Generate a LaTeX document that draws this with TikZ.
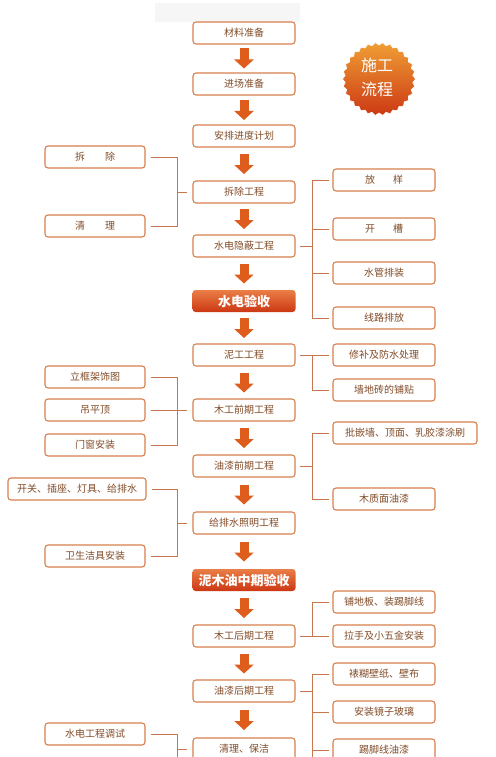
\documentclass[tikz,border=0pt]{standalone}
\usepackage{fontspec}
\setmainfont{Noto Sans CJK SC}
\usepackage{xcolor}
\usetikzlibrary{arrows.meta,positioning,shapes.geometric,calc}
\definecolor{boxline}{RGB}{214,128,78}
\definecolor{boxtext}{RGB}{130,76,40}
\definecolor{linkc}{RGB}{200,118,78}
\definecolor{flowc}{RGB}{222,92,28}
\definecolor{chktop}{RGB}{234,126,70}
\definecolor{chkbot}{RGB}{204,56,20}

\begin{document}
\begin{tikzpicture}[x=1pt,y=-1pt,
  proc/.style={draw=boxline,line width=1.1pt,rounded corners=3pt,fill=white,
               minimum width=102pt,minimum height=22pt,inner sep=0pt,
               text=boxtext,font=\fontsize{10}{12}\selectfont},
  sub/.style={proc,minimum width=100pt},
  check/.style={proc,draw=none,top color=chktop,bottom color=chkbot,
                text=white,minimum width=103pt,
                font=\fontsize{13}{15}\selectfont\bfseries},
  badge/.style={star,star points=30,star point ratio=0.93,minimum size=68pt,
                inner sep=0pt,draw=white,line width=0.6pt,
                top color=chktop!75!yellow,bottom color=chkbot},
  flow/.style={flowc,line width=9pt,-{Triangle[width=19pt,length=9pt]}},
  link/.style={linkc,line width=1pt}
]
\useasboundingbox[fill=white] (0,0) rectangle (495,757);
\fill[gray!7] (155,3) rectangle (300,22);

% main column
\node[proc] (n1) at (244,33) {材料准备};
\node[proc] (n2) at (244,84) {进场准备};
\node[proc] (n3) at (244,136) {安排进度计划};
\node[proc] (n4) at (244,192) {拆除工程};
\node[proc] (n5) at (244,246) {水电隐蔽工程};
\node[check] (n6) at (244,301) {水电验收};
\node[proc] (n7) at (244,355) {泥工工程};
\node[proc] (n8) at (244,410) {木工前期工程};
\node[proc] (n9) at (244,466) {油漆前期工程};
\node[proc] (n10) at (244,523) {给排水照明工程};
\node[check] (n11) at (244,580) {泥木油中期验收};
\node[proc] (n12) at (244,636) {木工后期工程};
\node[proc] (n13) at (244,691) {油漆后期工程};
\node[proc] (n14) at (244,749) {清理、保洁};

\foreach \a/\b in {n1/n2,n2/n3,n3/n4,n4/n5,n5/n6,n6/n7,n7/n8,n8/n9,
                   n9/n10,n10/n11,n11/n12,n12/n13,n13/n14}
  \draw[flow] ($(\a.south)!.5!(\b.north)+(0,-10)$) -- ++(0,20);

% badge
\node[badge] (bd) at (379,79) {};
\node[text=white,font=\fontsize{16}{24}\selectfont,align=center]
  at (377,77) {施工\\流程};

% left items
\node[sub] (cc) at (95,157) {拆\hspace{2em}除};
\node[sub] (ql) at (95,226) {清\hspace{2em}理};
\node[sub] (lk) at (95,377) {立框架饰图};
\node[sub] (dp) at (95,410) {吊平顶};
\node[sub] (mc) at (95,445) {门窗安装};
\node[sub,minimum width=138pt] (kg) at (77,489) {开关、插座、灯具、给排水};
\node[sub] (wy) at (95,556) {卫生洁具安装};
\node[sub] (sd) at (95,734) {水电工程调试};

% right items
\node[proc] (fy) at (384,180) {放\hspace{1.8em}样};
\node[proc] (kc) at (384,229) {开\hspace{1.8em}槽};
\node[proc] (sg) at (384,273) {水管排装};
\node[proc] (xl) at (384,318) {线路排放};
\node[proc] (xb) at (384,355) {修补及防水处理};
\node[proc] (qd) at (384,390) {墙地砖的铺贴};
\node[proc,minimum width=144pt] (pq) at (405,433) {批嵌墙、顶面、乳胶漆涂刷};
\node[proc] (mz) at (384,499) {木质面油漆};
\node[proc] (pd) at (384,602) {铺地板、装踢脚线};
\node[proc] (ls) at (384,636) {拉手及小五金安装};
\node[proc] (bs) at (384,674) {裱糊壁纸、壁布};
\node[proc] (jz) at (384,712) {安装镜子玻璃};
\node[proc] (tj) at (384,750) {踢脚线油漆};

% brackets
\coordinate (lb) at (177,0);
\coordinate (rb) at (312,0);
\coordinate (lend) at (177,775);
\coordinate (rend) at (312,775);

\draw[link] ([xshift=5pt]cc.east) -| (lb |- ql.east) -- ([xshift=5pt]ql.east);
\draw[link] (lb |- n4.west) -- ([xshift=-5pt]n4.west);

\draw[link] ([xshift=4pt]n5.east) -- (rb |- n5.east);
\draw[link] ([xshift=-3pt]fy.west) -| (rb |- xl.west) -- ([xshift=-3pt]xl.west);
\foreach \s in {kc,sg}
  \draw[link] (rb |- \s.west) -- ([xshift=-3pt]\s.west);

\draw[link] ([xshift=4pt]n7.east) -- ([xshift=-3pt]xb.west);
\draw[link] (rb |- xb.west) |- ([xshift=-3pt]qd.west);

\draw[link] ([xshift=5pt]lk.east) -| (lb |- mc.east) -- ([xshift=5pt]mc.east);
\draw[link] ([xshift=5pt]dp.east) -- ([xshift=-5pt]n8.west);

\draw[link] ([xshift=4pt]n9.east) -- (rb |- n9.east);
\draw[link] ([xshift=-3pt]pq.west) -| (rb |- mz.west) -- ([xshift=-3pt]mz.west);

\draw[link] ([xshift=5pt]kg.east) -| (lb |- wy.east) -- ([xshift=5pt]wy.east);
\draw[link] (lb |- n10.west) -- ([xshift=-5pt]n10.west);

\draw[link] ([xshift=4pt]n12.east) -- ([xshift=-3pt]ls.west);
\draw[link] (rb |- ls.west) |- ([xshift=-3pt]pd.west);

\draw[link] ([xshift=4pt]n13.east) -- (rb |- n13.east);
\draw[link] ([xshift=-3pt]bs.west) -| (rend);
\foreach \s in {jz,tj}
  \draw[link] (rb |- \s.west) -- ([xshift=-3pt]\s.west);

\draw[link] ([xshift=5pt]sd.east) -| (lend);
\draw[link] (lb |- n14.west) -- ([xshift=-5pt]n14.west);
\end{tikzpicture}
\end{document}
